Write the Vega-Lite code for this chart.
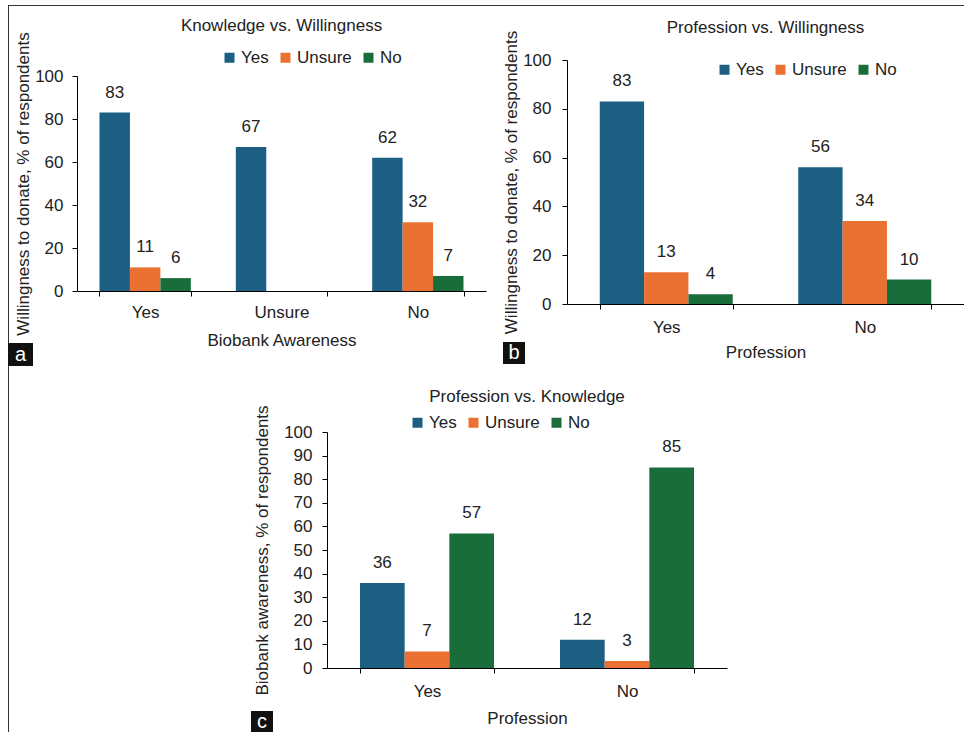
{
  "$schema": "https://vega.github.io/schema/vega-lite/v6.json",
  "padding": {"left": 8, "top": 5, "right": 0, "bottom": 0},
  "background": "white",
  "datasets": {
    "a": [
      {"group": "Yes", "response": "Yes", "value": 83},
      {"group": "Yes", "response": "Unsure", "value": 11},
      {"group": "Yes", "response": "No", "value": 6},
      {"group": "Unsure", "response": "Yes", "value": 67},
      {"group": "No", "response": "Yes", "value": 62},
      {"group": "No", "response": "Unsure", "value": 32},
      {"group": "No", "response": "No", "value": 7}
    ],
    "b": [
      {"group": "Yes", "response": "Yes", "value": 83},
      {"group": "Yes", "response": "Unsure", "value": 13},
      {"group": "Yes", "response": "No", "value": 4},
      {"group": "No", "response": "Yes", "value": 56},
      {"group": "No", "response": "Unsure", "value": 34},
      {"group": "No", "response": "No", "value": 10}
    ],
    "c": [
      {"group": "Yes", "response": "Yes", "value": 36},
      {"group": "Yes", "response": "Unsure", "value": 7},
      {"group": "Yes", "response": "No", "value": 57},
      {"group": "No", "response": "Yes", "value": 12},
      {"group": "No", "response": "Unsure", "value": 3},
      {"group": "No", "response": "No", "value": 85}
    ]
  },
  "config": {
    "font": "Liberation Sans",
    "view": {"stroke": null},
    "axis": {
      "labelFontSize": 17, "titleFontSize": 17, "titleFontWeight": "normal",
      "labelColor": "#222222", "titleColor": "#222222",
      "domainColor": "#000000", "tickColor": "#000000", "grid": false, "tickSize": 5
    },
    "title": {"fontSize": 17, "fontWeight": "normal", "color": "#222222"},
    "legend": {
      "labelFontSize": 17, "labelColor": "#222222", "symbolType": "square",
      "symbolSize": 100, "symbolStrokeWidth": 0, "labelOffset": 3, "columnPadding": 8
    },
    "text": {"fontSize": 17, "color": "#222222"}
  },
  "resolve": {"scale": {"color": "independent", "xOffset": "independent", "x": "independent", "y": "independent"}, "legend": {"color": "independent"}},
  "spacing": -1,
  "align": "none",
  "concat": [
    {"width": 1, "height": 740, "data": {"values": []}, "mark": "point", "view": {"fill": "#333333", "stroke": null}},
    {
      "columns": 1,
      "align": "none",
      "spacing": 10,
      "resolve": {"scale": {"color": "independent", "xOffset": "independent", "x": "independent", "y": "independent"}, "legend": {"color": "independent"}},
      "concat": [
        {"width": 956, "height": 1, "data": {"values": []}, "mark": "point", "view": {"fill": "#333333", "stroke": null}},
        {
          "columns": 1,
          "align": "none",
          "spacing": 21,
          "resolve": {"scale": {"color": "independent", "xOffset": "independent", "x": "independent", "y": "independent"}, "legend": {"color": "independent"}},
          "concat": [
            {
              "spacing": 16,
              "align": "none",
              "resolve": {"scale": {"color": "independent", "xOffset": "independent", "x": "independent", "y": "independent"}, "legend": {"color": "independent"}},
              "concat": [
                {
                  "spacing": -19,
                  "align": "none",
                  "resolve": {"scale": {"color": "independent", "xOffset": "independent", "x": "independent", "y": "independent"}, "legend": {"color": "independent"}},
                  "concat": [
                    {
                      "spacing": 0,
                      "vconcat": [
                        {"width": 25, "height": 267, "data": {"values": []}, "mark": "point"},
                        {"width": 25, "height": 23, "data": {"values": [{"t": "a"}]}, "view": {"fill": "#111111"},
                         "mark": {"type": "text", "color": "white", "fontSize": 20}, "encoding": {"text": {"field": "t"}}}
                      ]
                    },
                    {
                      "width": 409, "height": 215,
                      "data": {"name": "a"},
                      "title": {"text": "Knowledge vs. Willingness", "frame": "group", "offset": -3},
                      "encoding": {
                        "x": {"field": "group", "type": "nominal", "sort": ["Yes", "Unsure", "No"],
                              "scale": {"paddingInner": 0.33, "paddingOuter": 0.165},
                              "axis": {"title": "Biobank Awareness", "labelAngle": 0, "tickBand": "extent", "labelPadding": 8, "titlePadding": 12}},
                        "xOffset": {"field": "response", "sort": ["Yes", "Unsure", "No"], "scale": {"domain": ["Yes", "Unsure", "No"], "paddingInner": 0, "paddingOuter": 0}},
                        "y": {"field": "value", "type": "quantitative", "scale": {"domain": [0, 100]},
                              "axis": {"title": "Willingness to donate, % of respondents", "values": [0, 20, 40, 60, 80, 100], "labelPadding": 9, "titlePadding": 2}}
                      },
                      "layer": [
                        {"mark": "bar",
                         "encoding": {"color": {"field": "response", "type": "nominal",
                           "scale": {"domain": ["Yes", "Unsure", "No"], "range": ["#1d5f82", "#ea7131", "#186d3a"]},
                           "legend": {"orient": "none", "legendX": 144, "legendY": -27, "direction": "horizontal", "title": null}}}},
                        {"mark": {"type": "text", "baseline": "alphabetic", "dy": -15},
                         "encoding": {"text": {"field": "value", "type": "quantitative"}}}
                      ]
                    }
                  ]
                },
                {
                  "columns": 1,
                  "spacing": -58,
                  "align": "none",
                  "resolve": {"scale": {"color": "independent", "xOffset": "independent", "x": "independent", "y": "independent"}, "legend": {"color": "independent"}},
                  "concat": [
                    {"width": 1, "height": 1, "data": {"values": []}, "mark": "point"},
                    {
                      "spacing": -23,
                      "align": "none",
                      "resolve": {"scale": {"color": "independent", "xOffset": "independent", "x": "independent", "y": "independent"}, "legend": {"color": "independent"}},
                      "concat": [
                        {
                          "spacing": 0,
                          "vconcat": [
                            {"width": 22, "height": 282, "data": {"values": []}, "mark": "point"},
                            {"width": 22, "height": 22, "data": {"values": [{"t": "b"}]}, "view": {"fill": "#111111"},
                             "mark": {"type": "text", "color": "white", "fontSize": 20}, "encoding": {"text": {"field": "t"}}}
                          ]
                        },
                        {
                          "width": 397, "height": 244,
                          "data": {"name": "b"},
                          "title": {"text": "Profession vs. Willingness", "frame": "group", "offset": -7},
                          "encoding": {
                            "x": {"field": "group", "type": "nominal", "sort": ["Yes", "No"],
                                  "scale": {"paddingInner": 0.33, "paddingOuter": 0.165},
                                  "axis": {"title": "Profession", "labelAngle": 0, "tickBand": "extent", "labelPadding": 10, "titlePadding": 9}},
                            "xOffset": {"field": "response", "sort": ["Yes", "Unsure", "No"], "scale": {"domain": ["Yes", "Unsure", "No"], "paddingInner": 0, "paddingOuter": 0}},
                            "y": {"field": "value", "type": "quantitative", "scale": {"domain": [0, 100]},
                                  "axis": {"title": "Willingness to donate, % of respondents", "values": [0, 20, 40, 60, 80, 100], "labelPadding": 11, "titlePadding": 2}}
                          },
                          "layer": [
                            {"mark": "bar",
                             "encoding": {"color": {"field": "response", "type": "nominal",
                               "scale": {"domain": ["Yes", "Unsure", "No"], "range": ["#1d5f82", "#ea7131", "#186d3a"]},
                               "legend": {"orient": "none", "legendX": 149, "legendY": 1, "direction": "horizontal", "title": null}}}},
                            {"mark": {"type": "text", "baseline": "alphabetic", "dy": -15},
                             "encoding": {"text": {"field": "value", "type": "quantitative"}}}
                          ]
                        }
                      ]
                    }
                  ]
                }
              ]
            },
            {
              "spacing": -20,
              "align": "none",
              "resolve": {"scale": {"color": "independent", "xOffset": "independent", "x": "independent", "y": "independent"}, "legend": {"color": "independent"}},
              "concat": [
                {"width": 263, "height": 1, "data": {"values": []}, "mark": "point"},
                {
                  "spacing": 0,
                  "vconcat": [
                    {"width": 22, "height": 279, "data": {"values": []}, "mark": "point"},
                    {"width": 22, "height": 22, "data": {"values": [{"t": "c"}]}, "view": {"fill": "#111111"},
                     "mark": {"type": "text", "color": "white", "fontSize": 20}, "encoding": {"text": {"field": "t"}}}
                  ]
                },
                {
                  "width": 400, "height": 236,
                  "data": {"name": "c"},
                  "title": {"text": "Profession vs. Knowledge", "frame": "group", "offset": -1},
                  "encoding": {
                    "x": {"field": "group", "type": "nominal", "sort": ["Yes", "No"],
                          "scale": {"paddingInner": 0.33, "paddingOuter": 0.165},
                          "axis": {"title": "Profession", "labelAngle": 0, "tickBand": "extent", "labelPadding": 10, "titlePadding": 11}},
                    "xOffset": {"field": "response", "sort": ["Yes", "Unsure", "No"], "scale": {"domain": ["Yes", "Unsure", "No"], "paddingInner": 0, "paddingOuter": 0}},
                    "y": {"field": "value", "type": "quantitative", "scale": {"domain": [0, 100]},
                          "axis": {"title": "Biobank awareness, % of respondents", "values": [0, 10, 20, 30, 40, 50, 60, 70, 80, 90, 100], "labelPadding": 10, "titlePadding": 12}}
                  },
                  "layer": [
                    {"mark": "bar",
                     "encoding": {"color": {"field": "response", "type": "nominal",
                       "scale": {"domain": ["Yes", "Unsure", "No"], "range": ["#1d5f82", "#ea7131", "#186d3a"]},
                       "legend": {"orient": "none", "legendX": 82, "legendY": -18, "direction": "horizontal", "title": null}}}},
                    {"mark": {"type": "text", "baseline": "alphabetic", "dy": -15},
                     "encoding": {"text": {"field": "value", "type": "quantitative"}}}
                  ]
                }
              ]
            }
          ]
        }
      ]
    }
  ]
}
